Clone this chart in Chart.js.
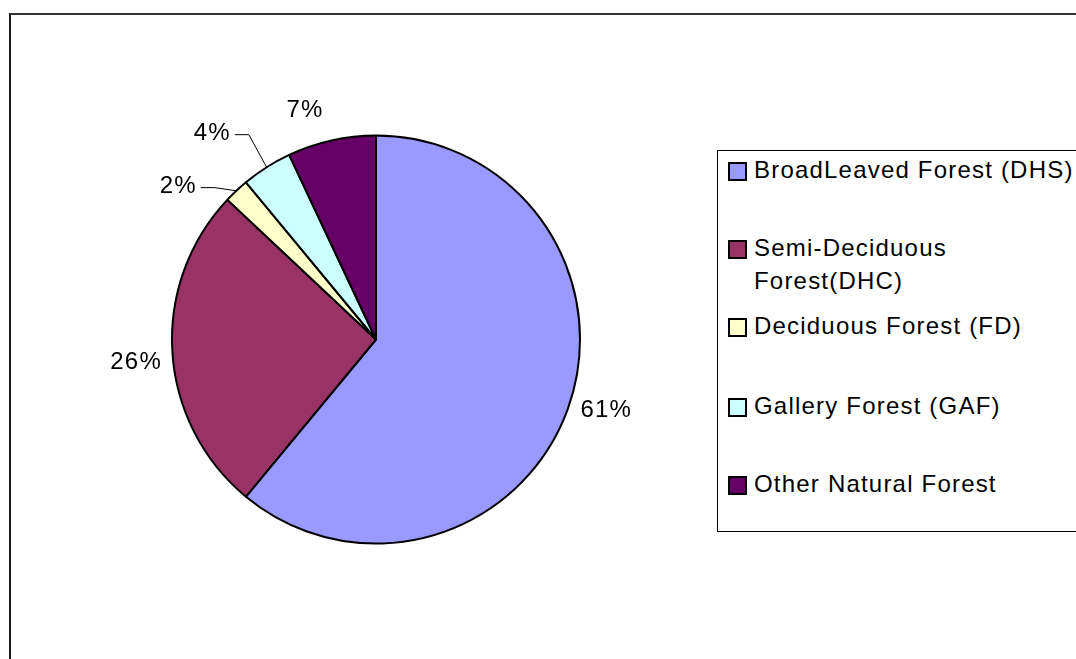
<!DOCTYPE html>
<html>
<head>
<meta charset="utf-8">
<script src="https://cdn.jsdelivr.net/npm/chart.js@4.4.0/dist/chart.umd.min.js"></script>
<style>
  html, body { margin: 0; padding: 0; background: #fff; overflow: hidden; }
  #wrap { position: relative; width: 1076px; height: 659px; overflow: hidden; }
  #frame { position: absolute; left: 9px; top: 13px; width: 1200px; height: 800px;
           border-left: 2px solid #1a1a1a; border-top: 2px solid #333; }
  #chart { position: absolute; left: 0; top: 0; }
  #legend { position: absolute; left: 717px; top: 150px; width: 420px; height: 380px;
            border: 1px solid #000; background: #fff;
            font-family: "Liberation Sans", Arial, sans-serif; font-size: 24px;
            letter-spacing: 1.2px; color: #000; }
  .item { position: absolute; left: 10px; }
  .sw { position: absolute; left: 0; top: 5px; width: 15px; height: 15px; border: 2px solid #000; }
  .txt { position: absolute; left: 26px; top: 0; white-space: nowrap; line-height: 33px; margin-top: -4px; }
</style>
</head>
<body>
<div id="wrap">
  <div id="frame"></div>
  <canvas id="chart" width="1076" height="659"></canvas>
  <div id="legend"></div>
</div>
<script>
// Forest cover shares (percent of natural forest area)
const categories = [
  'BroadLeaved Forest (DHS)',
  ['Semi-Deciduous', 'Forest(DHC)'],
  'Deciduous Forest (FD)',
  'Gallery Forest (GAF)',
  'Other Natural Forest'
];
const values = [61, 26, 2, 4, 7];
const colors = ['#9999FF', '#993366', '#FFFFCC', '#CCFFFF', '#660066'];

// Legend row offsets (px below the legend box top)
const legendRowTops = [6, 84, 162, 242, 320];

const legendEl = document.getElementById('legend');
categories.forEach((cat, i) => {
  const item = document.createElement('div');
  item.className = 'item';
  item.style.top = legendRowTops[i] + 'px';
  const sw = document.createElement('div');
  sw.className = 'sw';
  sw.style.background = colors[i];
  const txt = document.createElement('div');
  txt.className = 'txt';
  txt.innerHTML = (Array.isArray(cat) ? cat : [cat]).join('<br>');
  item.appendChild(sw);
  item.appendChild(txt);
  legendEl.appendChild(item);
});

// Percent labels outside the pie, with leader lines for the thin slices
const sliceLabels = {
  id: 'sliceLabels',
  afterDatasetsDraw(chart, args, opts) {
    const ctx = chart.ctx;
    const meta = chart.getDatasetMeta(0);
    const data = chart.data.datasets[0].data;
    const total = data.reduce((a, b) => a + b, 0);
    ctx.save();
    ctx.font = opts.font;
    if ('letterSpacing' in ctx) ctx.letterSpacing = opts.letterSpacing;
    ctx.fillStyle = '#000';
    ctx.strokeStyle = '#000';
    ctx.lineWidth = 1;
    ctx.textAlign = 'center';
    ctx.textBaseline = 'middle';
    meta.data.forEach((arc, i) => {
      const p = arc.getProps(['x', 'y', 'startAngle', 'endAngle', 'outerRadius'], true);
      const place = opts.placement[i];
      const mid = (p.startAngle + p.endAngle) / 2;
      const a = mid + place.da * Math.PI / 180;
      const lr = p.outerRadius + place.dr;
      const lx = p.x + Math.cos(a) * lr;
      const ly = p.y + Math.sin(a) * lr;
      const text = Math.round(data[i] / total * 100) + '%';
      if (place.leader) {
        const rx = p.x + Math.cos(mid) * p.outerRadius;
        const ry = p.y + Math.sin(mid) * p.outerRadius;
        const w = ctx.measureText(text).width;
        ctx.beginPath();
        ctx.moveTo(lx + w / 2 + 4, ly + 1);
        ctx.lineTo(lx + w / 2 + 18, ly + 1);
        ctx.lineTo(rx, ry);
        ctx.stroke();
      }
      ctx.fillText(text, lx, ly);
    });
    ctx.restore();
  }
};

new Chart(document.getElementById('chart'), {
  type: 'pie',
  data: {
    labels: categories,
    datasets: [{
      data: values,
      backgroundColor: colors,
      borderColor: '#000',
      borderWidth: 2
    }]
  },
  options: {
    responsive: false,
    devicePixelRatio: 1,
    animation: false,
    events: [],
    radius: 204,
    layout: { padding: { left: 0, right: 324, top: 20, bottom: 0 } },
    plugins: {
      legend: { display: false },
      tooltip: { enabled: false },
      sliceLabels: {
        font: '24px "Liberation Sans", Arial, sans-serif',
        letterSpacing: '1.2px',
        placement: [
          { da: -2.6, dr: 37 },
          { da: -1.9, dr: 37 },
          { da: -9.1, dr: 46, leader: true },
          { da: -6.1, dr: 59, leader: true },
          { da: -4.6, dr: 36 }
        ]
      }
    }
  },
  plugins: [sliceLabels]
});
</script>
</body>
</html>
